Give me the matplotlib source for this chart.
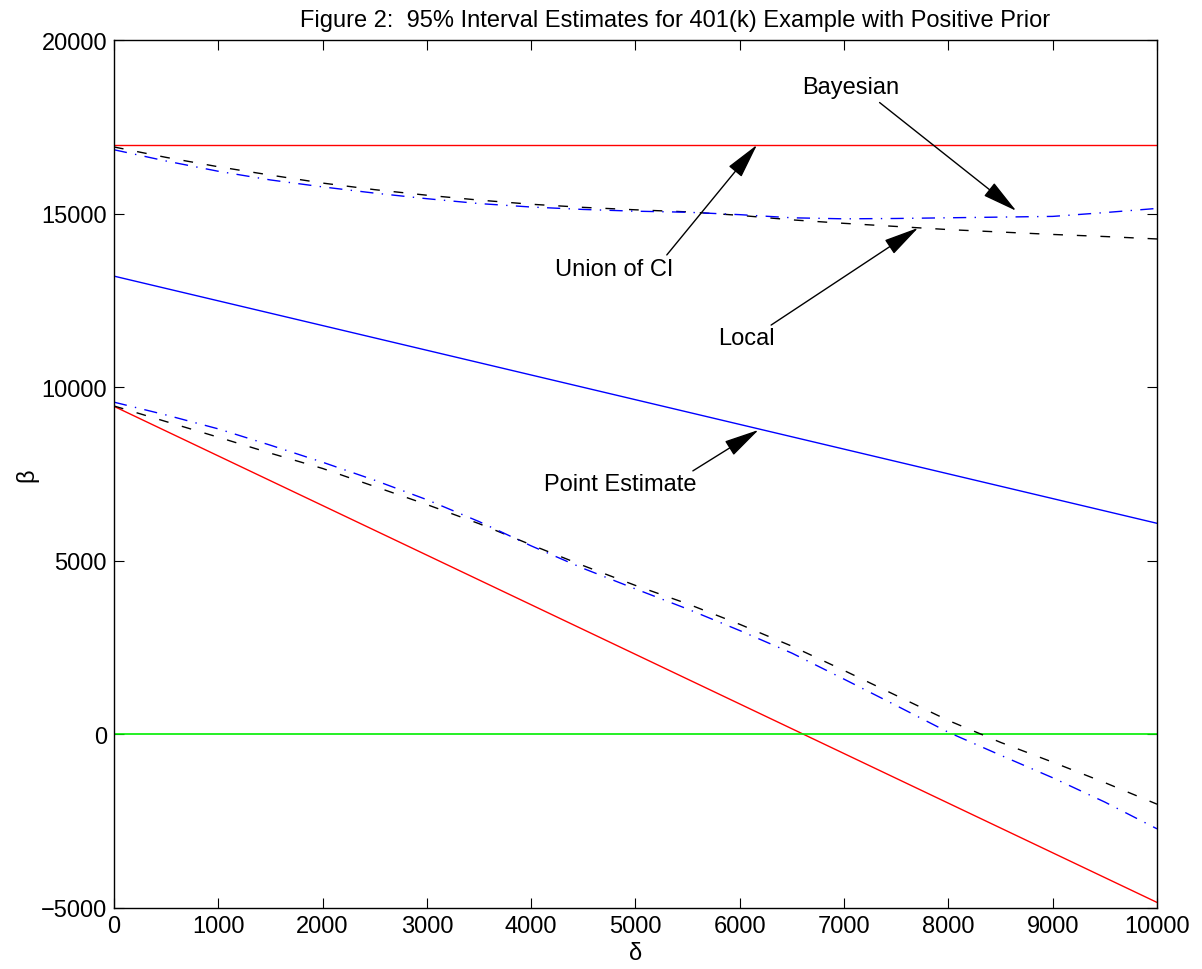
import numpy as np
import matplotlib.pyplot as plt

plt.rcParams['font.family'] = ['Liberation Sans', 'DejaVu Sans']

# delta grid (x values for the curves)
delta = [0, 500, 1000, 1500, 2000, 2500, 3000, 3500, 4000, 4500, 5000,
         5500, 6000, 6500, 7000, 7500, 8000, 8500, 9000, 9500, 10000]

# union of CI (red) bounds
union_upper = 16985
union_lower_ends = [9450, -4840]

# point estimate (blue solid)
point_ends = [13200, 6080]

# local interval (black dashed)
local_upper = [16920, 16620, 16350, 16110, 15880, 15690, 15530, 15390, 15270, 15180, 15110,
               15050, 14950, 14820, 14720, 14630, 14540, 14470, 14400, 14340, 14270]
local_lower = [9460, 9010, 8560, 8100, 7660, 7140, 6620, 6070, 5460, 4860, 4290,
               3760, 3170, 2540, 1840, 1120, 400, -230, -800, -1390, -2010]

# Bayesian interval (blue dash-dot)
bayes_upper = [16840, 16515, 16220, 15970, 15770, 15590, 15430, 15290, 15190, 15120, 15070,
               15040, 14970, 14880, 14850, 14860, 14880, 14900, 14920, 15030, 15150]
bayes_lower = [9570, 9200, 8800, 8330, 7840, 7320, 6760, 6130, 5430, 4780, 4190,
               3610, 2990, 2340, 1590, 830, 60, -600, -1250, -1950, -2720]

# annotations: label, text position, arrow tail, arrow tip
notes = [
    ('Bayesian', (7060, 18650), (7340, 18200), (8650, 15080)),
    ('Union of CI', (4800, 13400), (5300, 13810), (6165, 16980)),
    ('Local', (6060, 11420), (6300, 11790), (7710, 14590)),
    ('Point Estimate', (4850, 7210), (5550, 7590), (6180, 8770)),
]

fig = plt.figure(figsize=(12.02, 9.70), dpi=100)
ax = fig.add_axes([0.0948, 0.0629, 0.8678, 0.8948])

x_end = [delta[0], delta[-1]]
lw = 1.0
ax.plot(x_end, [union_upper, union_upper], color='#ff0000', lw=lw)
ax.plot(x_end, union_lower_ends, color='#ff0000', lw=lw)
ax.plot(x_end, point_ends, color='#0000ff', lw=lw)
ax.plot(x_end, [0, 0], color='#00ee00', lw=lw + 0.2)

for y in (local_upper, local_lower):
    ax.plot(delta, y, color='black', lw=lw, dashes=(7, 10))
for y in (bayes_upper, bayes_lower):
    ax.plot(delta, y, color='#0000ff', lw=lw, dashes=(9.5, 6, 1, 6))

for label, txt, tail, tip in notes:
    ax.text(txt[0], txt[1], label, fontsize=17, ha='center', va='center')
    ax.annotate('', xy=tip, xytext=tail,
                arrowprops=dict(arrowstyle='-|>,head_length=1.7,head_width=0.4',
                                color='black', lw=1.0, shrinkA=0, shrinkB=0,
                                mutation_scale=13))

ax.set_xlim(0, 10000)
ax.set_ylim(-5000, 20000)
ax.set_xticks(np.arange(0, 10001, 1000))
ax.set_yticks(np.arange(-5000, 20001, 5000))
ax.tick_params(direction='in', length=7, width=0.8, top=True, right=True,
               labelsize=17, pad=5)
for s in ax.spines.values():
    s.set_linewidth(1.0)

ax.set_xlabel('δ', fontsize=17, labelpad=4)
ax.set_ylabel('β', fontsize=17, labelpad=2)
ax.set_title('Figure 2:  95% Interval Estimates for 401(k) Example with Positive Prior',
             fontsize=17, pad=10, x=0.538)

fig.savefig('out.png', dpi=100)
